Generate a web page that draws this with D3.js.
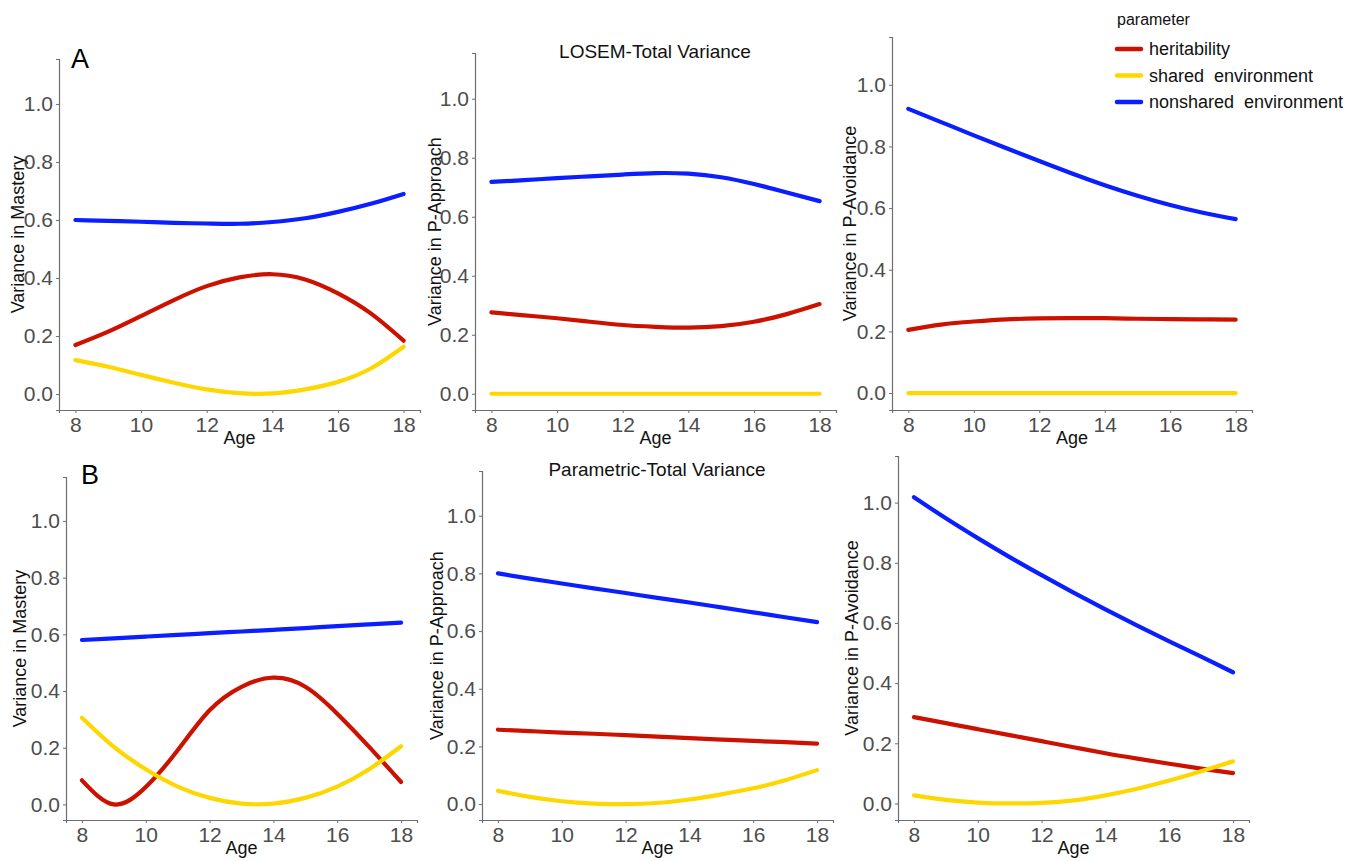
<!DOCTYPE html>
<html>
<head>
<meta charset="utf-8">
<script src="https://cdn.jsdelivr.net/npm/d3@7"></script>
<style>
  body { margin: 0; background: #fff; }
  svg { display: block; font-family: "Liberation Sans", Arial, sans-serif; }
</style>
</head>
<body>
<svg id="chart" width="1366" height="861"></svg>
<script>
// ages on the x axis
const ages = [8, 9, 10, 11, 12, 13, 14, 15, 16, 17, 18];
const xTicks = [8, 10, 12, 14, 16, 18];
const yTicks = [0, 0.2, 0.4, 0.6, 0.8, 1.0];

const parameters = ["heritability", "shared  environment", "nonshared  environment"];
const paramColors = ["#CC1100", "#FFD700", "#0A1EFF"];

// A: LOSEM-Total Variance
const losemMasteryH = [0.169, 0.215, 0.269, 0.324, 0.372, 0.402, 0.413, 0.395, 0.347, 0.278, 0.184];
const losemMasteryC = [0.117, 0.094, 0.066, 0.039, 0.016, 0.003, 0.002, 0.016, 0.042, 0.088, 0.163];
const losemMasteryE = [0.600, 0.597, 0.594, 0.590, 0.588, 0.587, 0.593, 0.606, 0.628, 0.656, 0.690];

const losemApproachH = [0.276, 0.266, 0.256, 0.244, 0.233, 0.227, 0.224, 0.229, 0.244, 0.270, 0.304];
const losemApproachC = [0, 0, 0, 0, 0, 0, 0, 0, 0, 0, 0];
const losemApproachE = [0.718, 0.724, 0.731, 0.737, 0.743, 0.748, 0.746, 0.734, 0.711, 0.682, 0.653];

const losemAvoidH = [0.205, 0.222, 0.232, 0.239, 0.242, 0.243, 0.243, 0.241, 0.240, 0.239, 0.238];
const losemAvoidC = [0, 0, 0, 0, 0, 0, 0, 0, 0, 0, 0];
const losemAvoidE = [0.922, 0.879, 0.836, 0.794, 0.753, 0.712, 0.674, 0.640, 0.610, 0.585, 0.564];

// B: Parametric-Total Variance
const paramMasteryH = [0.085, 0.000, 0.061, 0.191, 0.332, 0.415, 0.447, 0.415, 0.320, 0.203, 0.079];
const paramMasteryC = [0.306, 0.203, 0.124, 0.063, 0.023, 0.003, 0.003, 0.023, 0.063, 0.124, 0.205];
const paramMasteryE = [0.580, 0.586, 0.592, 0.598, 0.604, 0.610, 0.616, 0.622, 0.629, 0.635, 0.641];

const paramApproachH = [0.258, 0.253, 0.248, 0.244, 0.239, 0.234, 0.229, 0.224, 0.219, 0.215, 0.210];
const paramApproachC = [0.046, 0.025, 0.010, 0.002, 0.000, 0.004, 0.016, 0.034, 0.055, 0.083, 0.118];
const paramApproachE = [0.800, 0.782, 0.765, 0.748, 0.732, 0.715, 0.699, 0.682, 0.665, 0.648, 0.631];

const paramAvoidH = [0.287, 0.267, 0.247, 0.227, 0.207, 0.187, 0.167, 0.149, 0.132, 0.116, 0.101];
const paramAvoidC = [0.027, 0.012, 0.003, 0.000, 0.002, 0.010, 0.027, 0.049, 0.076, 0.107, 0.140];
const paramAvoidE = [1.018, 0.948, 0.882, 0.819, 0.759, 0.701, 0.645, 0.591, 0.539, 0.488, 0.436];

// panel boxes (left, right, top, bottom) in px
const panels = [
  { box: [59, 420, 59, 410], ylab: "Variance in Mastery", ylabX: 18, series: [losemMasteryH, losemMasteryC, losemMasteryE] },
  { box: [475, 836, 53, 410], ylab: "Variance in P-Approach", ylabX: 435, series: [losemApproachH, losemApproachC, losemApproachE] },
  { box: [892, 1252, 37, 410], ylab: "Variance in P-Avoidance", ylabX: 850, series: [losemAvoidH, losemAvoidC, losemAvoidE] },
  { box: [66, 417, 477, 820], ylab: "Variance in Mastery", ylabX: 20, series: [paramMasteryH, paramMasteryC, paramMasteryE] },
  { box: [482, 833, 471, 820], ylab: "Variance in P-Approach", ylabX: 437, series: [paramApproachH, paramApproachC, paramApproachE] },
  { box: [898, 1249, 456, 820], ylab: "Variance in P-Avoidance", ylabX: 852, series: [paramAvoidH, paramAvoidC, paramAvoidE] },
];

const svg = d3.select("#chart");

panels.forEach((p) => {
  const [left, right, top, bottom] = p.box;

  const xScale = d3.scaleLinear().domain([7.5, 18.5]).range([left, right]);
  const yScale = d3.scaleLinear().domain([-0.055, 1.155]).range([bottom, top]);

  const g = svg.append("g");

  const xAxis = d3.axisBottom(xScale).tickValues(xTicks).tickSize(3).tickPadding(4).tickFormat(d3.format("d"));
  const yAxis = d3.axisLeft(yScale).tickValues(yTicks).tickSize(3).tickPadding(3).tickFormat(d3.format(".1f"));

  const gx = g.append("g").attr("transform", `translate(0,${bottom})`).call(xAxis);
  const gy = g.append("g").attr("transform", `translate(${left},0)`).call(yAxis);

  [gx, gy].forEach((ax) => {
    ax.select(".domain").attr("stroke", "#6e6e6e").attr("stroke-width", 1.2);
    ax.selectAll(".tick line").attr("stroke", "#6e6e6e");
    ax.selectAll(".tick text")
      .attr("fill", "#4D4D4D")
      .style("font-size", "21px")
      .style("font-family", "'Liberation Sans', Arial, sans-serif");
  });
  gx.selectAll(".tick text").attr("dy", "0.72em");

  // Age label
  g.append("text")
    .attr("x", (left + right) / 2)
    .attr("y", bottom + 34)
    .attr("text-anchor", "middle")
    .style("font-size", "18px")
    .attr("fill", "#111")
    .text("Age");

  // y axis title
  g.append("text")
    .attr("transform", `translate(${p.ylabX + 6},${(top + bottom) / 2}) rotate(-90)`)
    .attr("text-anchor", "middle")
    .style("font-size", "18px")
    .attr("fill", "#111")
    .text(p.ylab);

  const lineGen = d3
    .line()
    .x((d, i) => xScale(ages[i]))
    .y((d) => yScale(d))
    .curve(d3.curveNatural);

  p.series.forEach((vals, k) => {
    g.append("path")
      .datum(vals)
      .attr("fill", "none")
      .attr("stroke", paramColors[k])
      .attr("stroke-width", 4.2)
      .attr("stroke-linecap", "round")
      .attr("d", lineGen);
  });
});

// panel letters and titles
svg.append("text").attr("x", 71).attr("y", 68).style("font-size", "27px").attr("fill", "#000").text("A");
svg.append("text").attr("x", 81).attr("y", 484).style("font-size", "27px").attr("fill", "#000").text("B");

svg.append("text").attr("x", 655).attr("y", 58).attr("text-anchor", "middle")
  .style("font-size", "19px").attr("fill", "#111").text("LOSEM-Total Variance");
svg.append("text").attr("x", 657).attr("y", 476).attr("text-anchor", "middle")
  .style("font-size", "19px").attr("fill", "#111").text("Parametric-Total Variance");

// legend
const legend = svg.append("g");
legend.append("text").attr("x", 1117).attr("y", 25).style("font-size", "16px").attr("fill", "#111").text("parameter");
parameters.forEach((name, k) => {
  const cy = 49 + k * 26.5;
  legend.append("line")
    .attr("x1", 1117).attr("x2", 1141).attr("y1", cy).attr("y2", cy)
    .attr("stroke", paramColors[k]).attr("stroke-width", 4.5).attr("stroke-linecap", "round");
  legend.append("text")
    .attr("x", 1149).attr("y", cy + 6)
    .style("font-size", "18px").style("white-space", "pre")
    .attr("fill", "#111")
    .text(name);
});
</script>
</body>
</html>
